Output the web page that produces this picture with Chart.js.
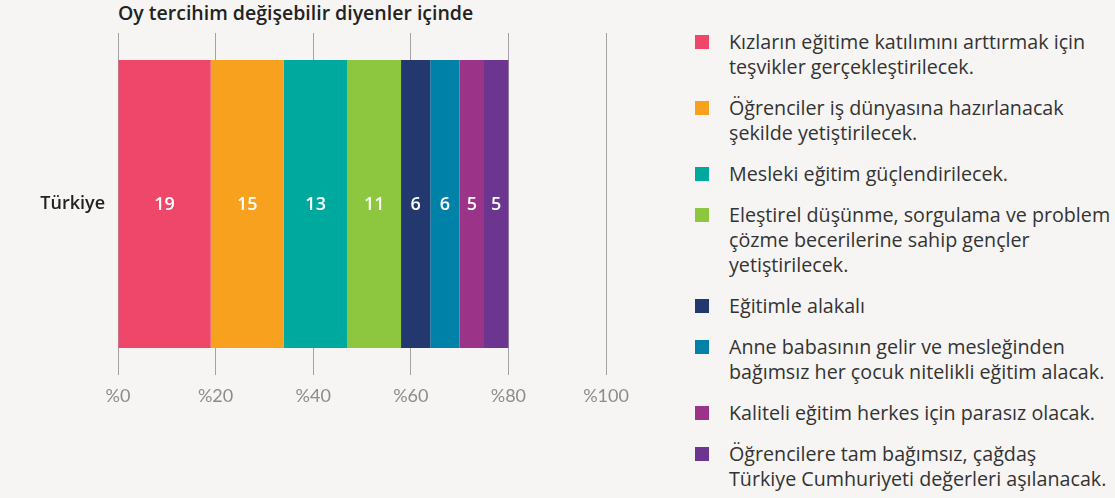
<!DOCTYPE html>
<html lang="tr">
<head>
<meta charset="utf-8">
<title>Oy tercihim değişebilir diyenler içinde</title>
<script src="https://cdn.jsdelivr.net/npm/chart.js@4.4.1/dist/chart.umd.min.js"></script>
<style>
    body { margin: 0; background: #f6f5f3; font-family: 'Open Sans', sans-serif; }
    #sayfa { position: relative; width: 1115px; height: 498px; overflow: hidden; }
    #baslik { position: absolute; left: 118px; top: -1px; font-weight: 600; font-size: 19.5px; color: #222; }
    #grafik-kutu { position: absolute; left: 0; top: 0; width: 680px; height: 498px; }
    #lejant { position: absolute; left: 695px; top: 29px; width: 420px; }
    .kalem { display: flex; margin-bottom: 16px; font-size: 19.7px; line-height: 25px; color: #333; white-space: nowrap; }
    .kare { width: 14px; height: 14px; margin-top: 6px; margin-right: 20px; flex: none; }
</style>
</head>
<body>
<div id="sayfa">
    <div id="baslik">Oy tercihim değişebilir diyenler içinde</div>
    <div id="grafik-kutu"><canvas id="grafik"></canvas></div>
    <div id="lejant"></div>
</div>
<script>
// Veriler
const kategoriler = ['Türkiye'];
const secenekler = [
    ['Kızların eğitime katılımını arttırmak için', 'teşvikler gerçekleştirilecek.'],
    ['Öğrenciler iş dünyasına hazırlanacak', 'şekilde yetiştirilecek.'],
    ['Mesleki eğitim güçlendirilecek.'],
    ['Eleştirel düşünme, sorgulama ve problem', 'çözme becerilerine sahip gençler', 'yetiştirilecek.'],
    ['Eğitimle alakalı'],
    ['Anne babasının gelir ve mesleğinden', 'bağımsız her çocuk nitelikli eğitim alacak.'],
    ['Kaliteli eğitim herkes için parasız olacak.'],
    ['Öğrencilere tam bağımsız, çağdaş', 'Türkiye Cumhuriyeti değerleri aşılanacak.']
];
const degerler = [19, 15, 13, 11, 6, 6, 5, 5];
const renkler = ['#ef476a', '#f7a11e', '#00a99d', '#8dc63f', '#243870', '#0082a8', '#9b3389', '#6b3590'];

// Lejant (HTML)
const lejant = document.getElementById('lejant');
secenekler.forEach((satirlar, i) => {
    const kalem = document.createElement('div');
    kalem.className = 'kalem';
    const kare = document.createElement('span');
    kare.className = 'kare';
    kare.style.background = renkler[i];
    const metin = document.createElement('span');
    metin.innerHTML = satirlar.join('<br>');
    kalem.appendChild(kare);
    kalem.appendChild(metin);
    lejant.appendChild(kalem);
});

// Çubuk içindeki değer etiketleri
const degerEtiketleri = {
    id: 'degerEtiketleri',
    afterDatasetsDraw(chart) {
        const ctx = chart.ctx;
        ctx.save();
        ctx.fillStyle = '#ffffff';
        ctx.font = '600 18px "Open Sans", sans-serif';
        ctx.textAlign = 'center';
        ctx.textBaseline = 'middle';
        chart.data.datasets.forEach((ds, i) => {
            chart.getDatasetMeta(i).data.forEach((bar, j) => {
                const p = bar.getProps(['x', 'y', 'base'], true);
                ctx.fillText(ds.data[j], (p.x + p.base) / 2, p.y + 1);
            });
        });
        ctx.restore();
    }
};

new Chart(document.getElementById('grafik'), {
    type: 'bar',
    data: {
        labels: kategoriler,
        datasets: secenekler.map((satirlar, i) => ({
            label: satirlar.join(' '),
            data: [degerler[i]],
            backgroundColor: renkler[i],
            borderWidth: 0,
            barPercentage: 0.842,
            categoryPercentage: 1
        }))
    },
    options: {
        indexAxis: 'y',
        responsive: true,
        maintainAspectRatio: false,
        animation: false,
        layout: { padding: { top: 33, right: 74, left: 0, bottom: 0 } },
        plugins: {
            legend: { display: false },
            tooltip: { enabled: false }
        },
        scales: {
            x: {
                stacked: true,
                min: 0,
                max: 100,
                ticks: {
                    stepSize: 20,
                    padding: 10,
                    color: '#8c8c8c',
                    font: { family: 'Lato', size: 18 },
                    callback: v => '%' + v
                },
                grid: { color: '#a3a3a3', lineWidth: 1, drawTicks: false },
                border: { display: false },
                afterFit: scale => { scale.height = 123; }
            },
            y: {
                stacked: true,
                ticks: {
                    padding: 5,
                    color: '#222',
                    font: { family: 'Open Sans', size: 18, weight: '600' }
                },
                grid: { display: false },
                border: { display: false },
                afterFit: scale => { scale.width = 118; }
            }
        }
    },
    plugins: [degerEtiketleri]
});
</script>
</body>
</html>
